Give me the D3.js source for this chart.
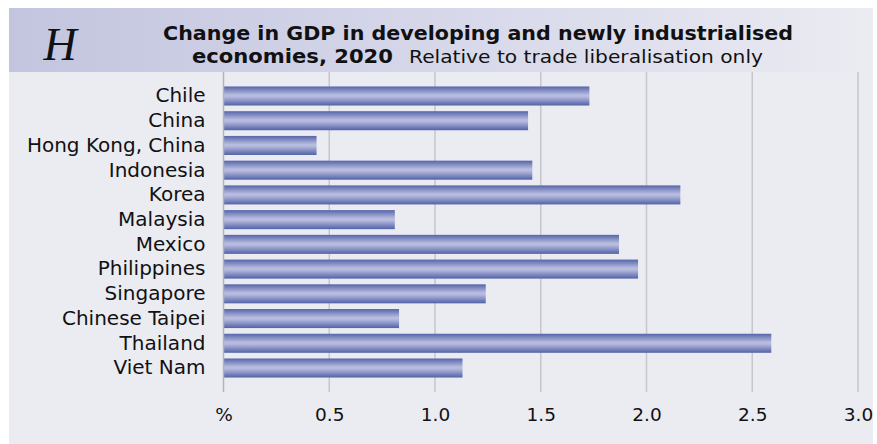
<!DOCTYPE html>
<html>
<head>
<meta charset="utf-8">
<script src="https://cdn.jsdelivr.net/npm/d3@7"></script>
<style>
  html, body { margin: 0; padding: 0; background: #ffffff; }
  svg { display: block; }
</style>
</head>
<body>
<svg id="chart" width="877" height="444"></svg>
<script>
// GDP change by economy, 2020 (%)
const economies = ["Chile", "China", "Hong Kong, China", "Indonesia", "Korea", "Malaysia",
  "Mexico", "Philippines", "Singapore", "Chinese Taipei", "Thailand", "Viet Nam"];
const gdpChange = [1.73, 1.44, 0.44, 1.46, 2.16, 0.81, 1.87, 1.96, 1.24, 0.83, 2.59, 1.13];
const tickValues = [0, 0.5, 1.0, 1.5, 2.0, 2.5, 3.0];
const tickLabels = ["%", "0.5", "1.0", "1.5", "2.0", "2.5", "3.0"];

const titleLine1 = "Change in GDP in developing and newly industrialised";
const titleLine2Bold = "economies, 2020";
const titleLine2 = "Relative to trade liberalisation only";
const panelLetter = "H";

const svg = d3.select("#chart");
const font = "'DejaVu Sans', Verdana, sans-serif";

// panel background
svg.append("rect").attr("x", 9).attr("y", 8).attr("width", 864).attr("height", 436)
  .attr("fill", "#ebebf2");

const defs = svg.append("defs");
const hdr = defs.append("linearGradient").attr("id", "hdr")
  .attr("x1", "0").attr("x2", "1").attr("y1", "0").attr("y2", "0");
hdr.append("stop").attr("offset", "0").attr("stop-color", "#c3c5df");
hdr.append("stop").attr("offset", "0.55").attr("stop-color", "#d8d9ea");
hdr.append("stop").attr("offset", "1").attr("stop-color", "#ebebf2");

const bar = defs.append("linearGradient").attr("id", "bar")
  .attr("x1", "0").attr("x2", "0").attr("y1", "0").attr("y2", "1");
bar.append("stop").attr("offset", "0").attr("stop-color", "#5565a9");
bar.append("stop").attr("offset", "0.45").attr("stop-color", "#b9bde0");
bar.append("stop").attr("offset", "0.55").attr("stop-color", "#b4b8dd");
bar.append("stop").attr("offset", "1").attr("stop-color", "#5262a7");

// header band
svg.append("rect").attr("x", 9).attr("y", 8).attr("width", 864).attr("height", 64)
  .attr("fill", "url(#hdr)");

svg.append("text").attr("x", 60).attr("y", 60).attr("text-anchor", "middle")
  .attr("font-family", "'Liberation Serif', 'DejaVu Serif', serif")
  .attr("font-style", "italic").attr("font-size", 46).attr("fill", "#111")
  .text(panelLetter);

// stretch or squeeze a text element to a given width
function fitWidth(sel, width) {
  const w = sel.node().getComputedTextLength();
  if (w > 0) sel.attr("textLength", width).attr("lengthAdjust", "spacingAndGlyphs");
}

const t1 = svg.append("text").attr("x", 163).attr("y", 40)
  .attr("font-family", font).attr("font-weight", "bold").attr("font-size", 19)
  .attr("fill", "#111").text(titleLine1);
fitWidth(t1, 630);

const t2a = svg.append("text").attr("x", 192).attr("y", 63)
  .attr("font-family", font).attr("font-weight", "bold").attr("font-size", 19)
  .attr("fill", "#111").text(titleLine2Bold);
fitWidth(t2a, 201);
const t2b = svg.append("text").attr("x", 409).attr("y", 63)
  .attr("font-family", font).attr("font-size", 18)
  .attr("fill", "#111").text(titleLine2);
fitWidth(t2b, 354);

// scales
const x = d3.scaleLinear().domain([0, 3]).range([223.5, 858]);
const y = d3.scaleBand().domain(economies).range([84, 380]).paddingInner(0.23).paddingOuter(0.1);

const plotTop = 72, plotBottom = 392;

// vertical grid lines
svg.append("g").selectAll("line").data(tickValues.slice(1)).join("line")
  .attr("x1", d => x(d)).attr("x2", d => x(d))
  .attr("y1", plotTop).attr("y2", plotBottom)
  .attr("stroke", "#c6c6cc").attr("stroke-width", 1.5);

// bars
svg.append("g").selectAll("rect").data(economies).join("rect")
  .attr("x", x(0)).attr("y", d => y(d))
  .attr("width", (d, i) => x(gdpChange[i]) - x(0))
  .attr("height", y.bandwidth())
  .attr("fill", "url(#bar)");

// baseline
svg.append("line").attr("x1", x(0)).attr("x2", x(0)).attr("y1", plotTop).attr("y2", plotBottom)
  .attr("stroke", "#b4b4ba").attr("stroke-width", 1.5);

// category labels
const yAxis = d3.axisLeft(y).tickSize(0).tickPadding(18);
const ya = svg.append("g").attr("transform", `translate(${x(0)},0)`).call(yAxis);
ya.select(".domain").remove();
ya.selectAll("text").attr("font-family", font).attr("font-size", 20).attr("fill", "#111");

// value axis labels
const xAxis = d3.axisBottom(x).tickValues(tickValues).tickSize(0).tickPadding(0)
  .tickFormat((d, i) => tickLabels[i]);
const xa = svg.append("g").attr("transform", `translate(0,${plotBottom})`).call(xAxis);
xa.select(".domain").remove();
xa.selectAll("text").attr("font-family", font).attr("font-size", 18.5).attr("fill", "#111")
  .attr("dy", 29);
</script>
</body>
</html>
